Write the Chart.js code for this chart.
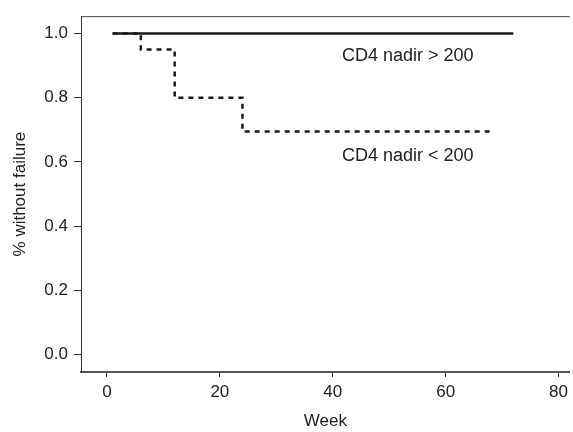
<!DOCTYPE html>
<html>
<head>
<meta charset="utf-8">
<script src="https://cdn.jsdelivr.net/npm/chart.js@4/dist/chart.umd.min.js"></script>
<style>
  html, body { margin: 0; padding: 0; background: #fff; }
  #wrap { width: 573px; height: 432px; }
</style>
</head>
<body>
<div id="wrap"><canvas id="kmPlot"></canvas></div>
<script>
// Kaplan-Meier curves
const weeksAbove = [1, 72];
const survAbove = [1.0, 1.0];
const weeksBelow = [1, 6, 12, 24, 68];
const survBelow = [1.0, 0.95, 0.8, 0.695, 0.695];

const xTicks = [0, 20, 40, 60, 80];
const yTicks = [0.0, 0.2, 0.4, 0.6, 0.8, 1.0];

const curveLabels = ['CD4 nadir > 200', 'CD4 nadir < 200'];
const labelWeek = [53.3, 53.3];
const labelSurv = [0.93, 0.62];

const FONT = "'Liberation Sans', Arial, Helvetica, sans-serif";

const toPoints = (xs, ys) => xs.map((x, i) => ({ x: x, y: ys[i] }));

// frame line on top + curve labels
const extras = {
    id: 'extras',
    afterDraw(chart) {
        const { ctx, chartArea, scales } = chart;
        ctx.save();
        ctx.strokeStyle = '#444';
        ctx.lineWidth = 1;
        ctx.beginPath();
        ctx.moveTo(chartArea.left, chartArea.top + 0.5);
        ctx.lineTo(chartArea.right, chartArea.top + 0.5);
        ctx.stroke();

        ctx.fillStyle = '#222';
        ctx.font = '18px ' + FONT;
        ctx.textAlign = 'center';
        ctx.textBaseline = 'middle';
        curveLabels.forEach((t, i) => {
            ctx.fillText(t, scales.x.getPixelForValue(labelWeek[i]), scales.y.getPixelForValue(labelSurv[i]));
        });
        ctx.restore();
    }
};

new Chart(document.getElementById('kmPlot'), {
    type: 'scatter',
    data: {
        datasets: [
            {
                label: 'CD4 nadir < 200',
                data: toPoints(weeksBelow, survBelow),
                showLine: true,
                stepped: 'before',
                borderColor: '#1a1a1a',
                borderWidth: 2.5,
                borderDash: [5, 5],
                pointRadius: 0
            },
            {
                label: 'CD4 nadir > 200',
                data: toPoints(weeksAbove, survAbove),
                showLine: true,
                borderColor: '#1a1a1a',
                borderWidth: 2.5,
                pointRadius: 0
            }
        ]
    },
    options: {
        responsive: true,
        maintainAspectRatio: false,
        animation: false,
        layout: { padding: { top: 12, left: 0, right: 0, bottom: 0 } },
        plugins: {
            legend: { display: false },
            tooltip: { enabled: false }
        },
        scales: {
            x: {
                type: 'linear',
                min: -4.6,
                max: 82,
                afterBuildTicks: s => { s.ticks = xTicks.map(v => ({ value: v })); },
                afterFit: s => { s.height = 60; },
                border: { color: '#555', width: 2 },
                grid: { drawOnChartArea: false, drawTicks: true, tickLength: 5, color: '#333' },
                ticks: {
                    padding: 5,
                    color: '#222',
                    font: { family: FONT, size: 17 },
                    callback: v => String(v)
                },
                title: {
                    display: true,
                    text: 'Week',
                    color: '#222',
                    font: { family: FONT, size: 17 },
                    padding: { top: 13, bottom: 0 }
                }
            },
            y: {
                type: 'linear',
                min: -0.054,
                max: 1.054,
                afterBuildTicks: s => { s.ticks = yTicks.map(v => ({ value: v })); },
                afterFit: s => { s.width = 81; },
                border: { color: '#333', width: 1 },
                grid: { drawOnChartArea: false, drawTicks: true, tickLength: 7, color: '#333' },
                ticks: {
                    padding: 6,
                    color: '#222',
                    font: { family: FONT, size: 17 },
                    callback: v => Number(v).toFixed(1)
                },
                title: {
                    display: true,
                    text: '% without failure',
                    color: '#222',
                    font: { family: FONT, size: 17 },
                    padding: { top: 10, bottom: 0 }
                }
            }
        }
    },
    plugins: [extras]
});
</script>
</body>
</html>
